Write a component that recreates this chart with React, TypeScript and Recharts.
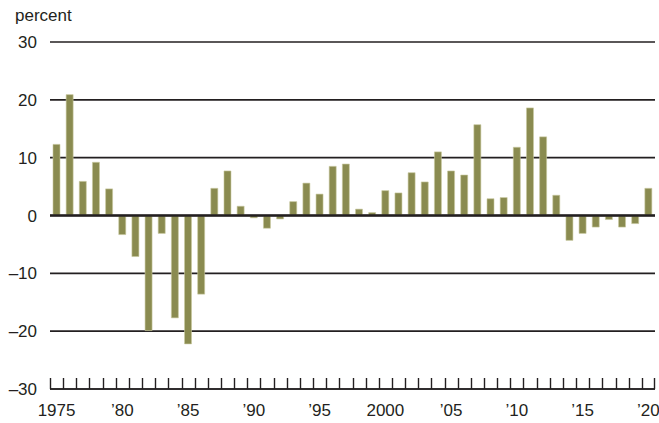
import React from 'react';
import { BarChart, Bar, XAxis, YAxis, CartesianGrid, ReferenceLine } from 'recharts';

const years = [
  1975, 1976, 1977, 1978, 1979, 1980, 1981, 1982, 1983, 1984,
  1985, 1986, 1987, 1988, 1989, 1990, 1991, 1992, 1993, 1994,
  1995, 1996, 1997, 1998, 1999, 2000, 2001, 2002, 2003, 2004,
  2005, 2006, 2007, 2008, 2009, 2010, 2011, 2012, 2013, 2014,
  2015, 2016, 2017, 2018, 2019, 2020
];

const changes = [
  12.3, 20.9, 5.9, 9.2, 4.6, -3.3, -7.1, -19.9, -3.1, -17.7,
  -22.2, -13.6, 4.7, 7.7, 1.6, -0.4, -2.2, -0.6, 2.4, 5.6,
  3.7, 8.5, 8.9, 1.1, 0.5, 4.3, 3.9, 7.4, 5.8, 11.0,
  7.7, 7.0, 15.7, 2.9, 3.1, 11.8, 18.6, 13.6, 3.5, -4.3,
  -3.1, -2.0, -0.7, -2.0, -1.4, 4.7
];

const yTicks = [-30, -20, -10, 0, 10, 20, 30];
const labelYears = [1975, 1980, 1985, 1990, 1995, 2000, 2005, 2010, 2015, 2020];
const labelText = ['1975', '\u201980', '\u201985', '\u201990', '\u201995', '2000', '\u201905', '\u201910', '\u201915', '\u201920'];

const data = years.map((y, i) => ({ year: y, value: changes[i] }));

const font = '"Liberation Sans", Arial, Helvetica, sans-serif';
const ink = '#231f20';
const labelGap = 15;

// year label plus the small upward tick marks at each year boundary
const YearTick = (props: any) => {
  const { x, y, payload, index, width } = props;
  const half = payload && payload.offset ? payload.offset : width / years.length / 2;
  const axisY = y - labelGap;
  const k = labelYears.indexOf(payload.value);
  const last = index === years.length - 1;
  const lx = Math.round(x - half) + 0.5;
  const rx = Math.round(x + half) - 0.5;
  return (
    <g>
      <line x1={lx} x2={lx} y1={axisY} y2={axisY - 11} stroke={ink} strokeWidth={1.4} />
      {last && <line x1={rx} x2={rx} y1={axisY} y2={axisY - 11} stroke={ink} strokeWidth={1.4} />}
      {k >= 0 && (
        <text x={x} y={y} dy="0.71em" textAnchor="middle" fontSize={17} fill={ink} fontFamily={font}>
          {labelText[k]}
        </text>
      )}
    </g>
  );
};

export default function App() {
  return (
    <div style={{ position: 'absolute', left: 0, top: 0, width: 659, height: 423, background: '#fff', fontFamily: font }}>
      <div style={{ position: 'absolute', left: 15, top: 7, fontSize: 17, lineHeight: 1, color: ink }}>percent</div>
      <BarChart
        width={659}
        height={423}
        data={data}
        margin={{ top: 42, right: 4, bottom: 4, left: 0 }}
        barSize={7}
      >
        <CartesianGrid vertical={false} stroke={ink} strokeWidth={1.6} />
        <XAxis
          dataKey="year"
          height={30}
          interval={0}
          axisLine={{ stroke: ink, strokeWidth: 1.6 }}
          tickLine={false}
          tickSize={0}
          tickMargin={labelGap}
          tick={<YearTick />}
        />
        <YAxis
          width={50}
          domain={[-30, 30]}
          ticks={yTicks}
          axisLine={false}
          tickLine={false}
          tickSize={0}
          tickMargin={13}
          tick={{ fontSize: 17, fill: ink, fontFamily: font }}
          tickFormatter={(v: number) => (v < 0 ? `\u2013${-v}` : `${v}`)}
        />
        <ReferenceLine y={0} stroke={ink} strokeWidth={2.6} />
        <Bar
          dataKey="value"
          fill="#8a8b50"
          stroke="#c9caa0"
          strokeWidth={0.6}
          isAnimationActive={false}
        />
      </BarChart>
    </div>
  );
}
